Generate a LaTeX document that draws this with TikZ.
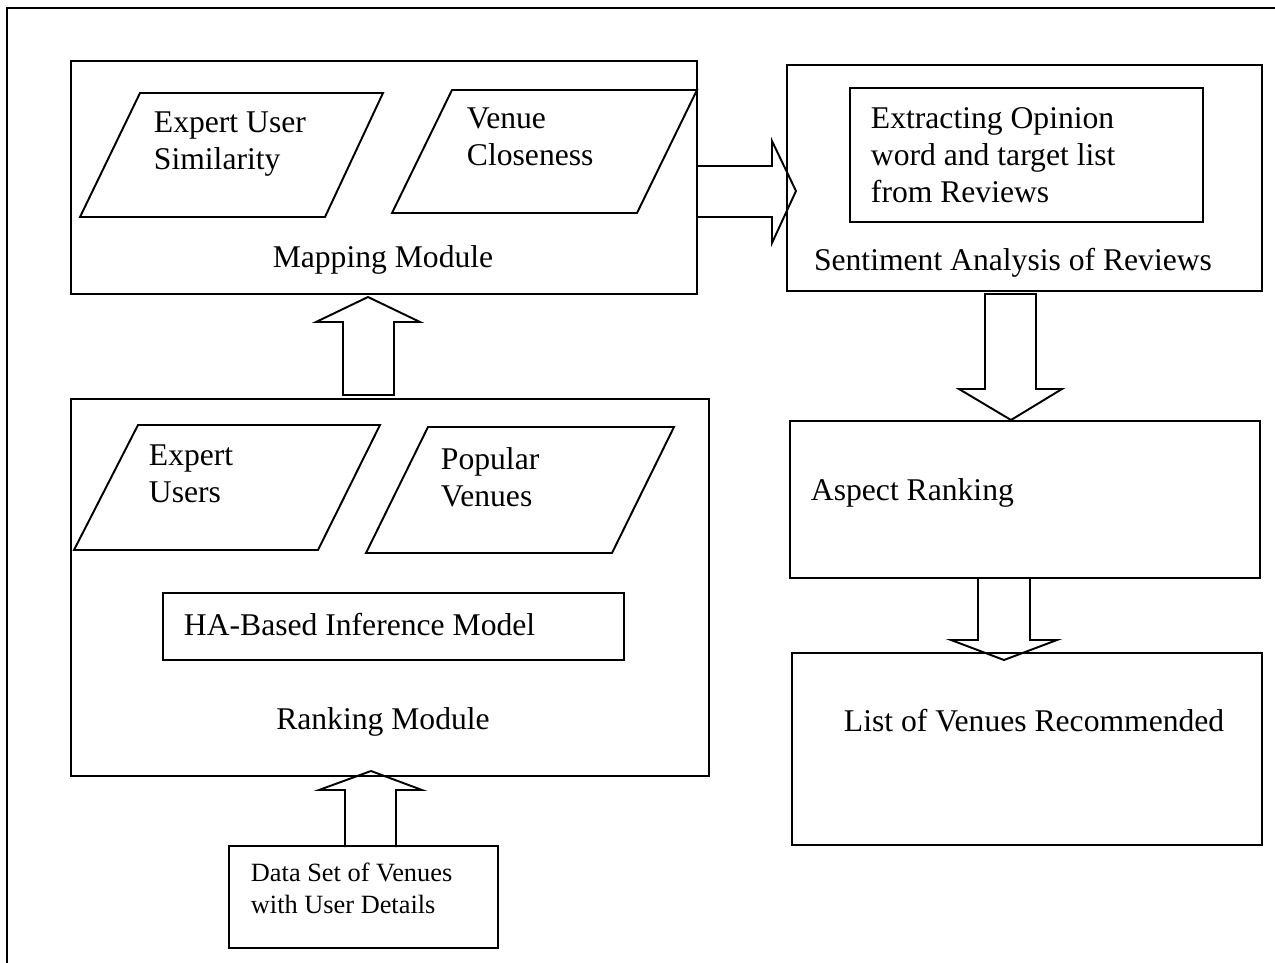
\documentclass[tikz,border=0pt]{standalone}
\usepackage{fontspec}
\setmainfont{Liberation Serif}
\usetikzlibrary{positioning,calc,fit}

\begin{document}
\begin{tikzpicture}[x=0.02cm, y=-0.02cm, line width=1.1pt, line join=miter,
    font=\fontsize{18}{21}\selectfont,
    box/.style={draw, rectangle, inner sep=0pt},
    txt/.style={inner sep=0pt, align=left},
    blk/.style={draw, line width=1.1pt}]
  \useasboundingbox (0,0) rectangle (1275,963);
  % ---- outer frame
  \draw (7,963) -- (7,8) -- (1275,8);
  % ---- mapping module
  \node[box, fit={(71,61) (697,294)}] (map) {};
  \draw (140,93) -- (383,93) -- (325,217) -- (80,217) -- cycle;
  \draw (452,90) -- (697,90) -- (637,213) -- (392,213) -- cycle;
  \node[txt, anchor=north west] (sim) at (153,111) {Expert User\\Similarity};
  \node[txt, anchor=north west] (close) at (466,107) {Venue\\Closeness};
  \node[txt, anchor=base] (maplab) at (383,267) {Mapping Module};
  % ---- ranking module
  \node[box, fit={(71,399) (709,776)}] (rank) {};
  \draw (138,425) -- (380,425) -- (318,550) -- (74,550) -- cycle;
  \draw (428,427) -- (674,427) -- (612,553) -- (366,553) -- cycle;
  \node[txt, anchor=north west] (expu) at (148,444) {Expert\\Users};
  \node[txt, anchor=north west] (popv) at (440,447) {Popular\\Venues};
  \node[box, fit={(163,593) (624,660)}] (ha) {};
  \node[txt, anchor=base west] (halab) at (183,635) {HA-Based Inference Model};
  \node[txt, anchor=base] (ranklab) at (383,729) {Ranking Module};
  % ---- data set
  \node[box, fit={(229,846) (498,948)}] (data) {};
  \node[txt, anchor=north west, font=\fontsize{15}{18}\selectfont] (datalab) at (250,862)
    {Data Set of Venues\\with User Details};
  % ---- sentiment analysis
  \node[box, fit={(787,65) (1262,291)}] (senti) {};
  \node[box, fit={(850,88) (1203,222)}] (extr) {};
  \node[txt, anchor=north west] (extrlab) at (870,107)
    {Extracting Opinion\\word and target list\\from Reviews};
  \node[txt, anchor=base] (sentilab) at (1013,270) {Sentiment Analysis of Reviews};
  % ---- aspect ranking and result
  \node[box, fit={(790,421) (1260,578)}] (aspect) {};
  \node[txt, anchor=base west] (aspectlab) at (810,500) {Aspect Ranking};
  \node[box, fit={(792,653) (1262,845)}] (list) {};
  \node[txt, anchor=base west] (listlab) at (843,731) {List of Venues Recommended};
  % ---- block arrows
  \draw[blk] (345,847) -- (345,790) -- (319,790) -- (371,771) -- (422,790) -- (396,790) -- (396,847);
  \draw[blk] (343,395) -- (343,322) -- (316,322) -- (368,297) -- (420,322) -- (394,322) -- (394,395) -- cycle;
  \draw[blk] (map.east |- 0,166) -- (772,166) -- (772,141) -- (796,191) -- (772,243) -- (772,217) -- (map.east |- 0,217);
  \draw[blk] (985,294) -- (985,389) -- (959,389) -- (1011,420) -- (1062,389) -- (1036,389) -- (1036,294) -- cycle;
  \draw[blk] (978,578) -- (978,640) -- (951,640) -- (1004,660) -- (1057,640) -- (1030,640) -- (1030,578);
\end{tikzpicture}
\end{document}
